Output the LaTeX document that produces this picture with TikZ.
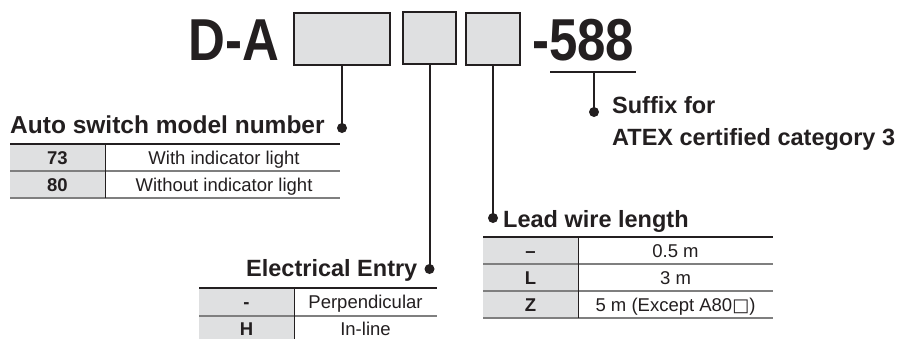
\documentclass[tikz,border=0pt]{standalone}
\usepackage{fontspec}
\setmainfont{Liberation Sans}
\newfontfamily\symfont{DejaVu Sans}
\definecolor{ink}{HTML}{231F20}
\definecolor{boxgray}{HTML}{DFE0E1}
\definecolor{rulegray}{HTML}{7F7F7F}
\tikzset{
  codebox/.style={draw=ink, line width=2.4pt, fill=boxgray, inner sep=0, minimum height=51.6},
  bigtext/.style={anchor=base west, inner sep=0, text=ink, font=\fontsize{51}{60}\selectfont\bfseries},
  title/.style={anchor=base west, inner sep=0, text=ink, font=\fontsize{23.5}{32}\selectfont\bfseries},
  cellb/.style={anchor=base, inner sep=0, text=ink, font=\fontsize{18.5}{20}\selectfont\bfseries},
  cell/.style={anchor=base, inner sep=0, text=ink, font=\fontsize{18.5}{20}\selectfont},
  dotnode/.style={circle, fill=ink, inner sep=0, minimum size=10},
  conn/.style={draw=ink, line width=2pt},
  toprule/.style={draw=ink, line width=2pt},
  rowrule/.style={draw=rulegray, line width=1.2pt},
  colrule/.style={draw=ink, line width=1pt}
}
\begin{document}
\begin{tikzpicture}[x=1pt,y=-1pt]
\useasboundingbox[fill=white] (0,0) rectangle (912,338);
% header
\node[bigtext] (da) at (188,60) {\scalebox{1}[1.16]{D-A}};
\node[codebox, minimum width=95.6] (b1) at (342,39) {};
\node[codebox, minimum width=52.6] (b2) at (429.5,38) {};
\node[codebox, minimum width=53.6] (b3) at (493,39) {};
\node[bigtext] (suf) at (532,60) {\scalebox{1}[1.16]{-588}};
\coordinate (ulL) at (550,72);
\coordinate (ulR) at (636,72);
\coordinate (ulM) at (594,72);
\draw[conn] (ulL) -- (ulR);
% dots
\node[dotnode] (d1) at (342,128) {};
\node[dotnode] (d2) at (429.5,269) {};
\node[dotnode] (d3) at (493,218) {};
\node[dotnode] (d4) at (594,112) {};
\draw[conn] (b1.south) -- (d1.center);
\draw[conn] (b2.south) -- (d2.center);
\draw[conn] (b3.south) -- (d3.center);
\draw[conn] (ulM) -- (d4.center);
% titles
\node[title, font=\fontsize{24.5}{30}\selectfont\bfseries] (ttl1) at (10,133) {Auto switch model number};
\node[title] (ttl2) at (246,276) {Electrical Entry};
\node[title] (ttl3) at (503,227) {Lead wire length};
\node[title] (ttl4a) at (612,113) {Suffix for};
\node[title] (ttl4b) at (612,145) {ATEX certified category 3};
% table 1
\fill[boxgray] (10,144) rectangle (105,198);
\draw[rowrule] (10,171) -- (340,171);
\draw[rowrule] (10,198) -- (340,198);
\draw[colrule] (105,144) -- (105,198);
\draw[toprule] (10,144) -- (340,144);
\node[cellb] (t1a1) at (57.5,164) {73};
\node[cell] (t1a2) at (224,164) {With indicator light};
\node[cellb] (t1b1) at (57.5,191) {80};
\node[cell] (t1b2) at (224,191) {Without indicator light};
% table 2
\fill[boxgray] (199,288) rectangle (294,340);
\draw[rowrule] (199,316) -- (437,316);
\draw[colrule] (294,288) -- (294,340);
\draw[toprule] (199,288) -- (437,288);
\node[cellb] (t2a1) at (246.5,308.5) {-};
\node[cell] (t2a2) at (365.5,308.5) {Perpendicular};
\node[cellb] (t2b1) at (246.5,335) {H};
\node[cell] (t2b2) at (365.5,335) {In-line};
% table 3
\fill[boxgray] (483,237) rectangle (578,318);
\draw[rowrule] (483,264) -- (773,264);
\draw[rowrule] (483,291) -- (773,291);
\draw[rowrule] (483,318) -- (773,318);
\draw[colrule] (578,237) -- (578,318);
\draw[toprule] (483,237) -- (773,237);
\node[cellb] (t3a1) at (530.5,257) {–};
\node[cell] (t3a2) at (675.5,257) {0.5 m};
\node[cellb] (t3b1) at (530.5,284) {L};
\node[cell] (t3b2) at (675.5,284) {3 m};
\node[cellb] (t3c1) at (530.5,311) {Z};
\node[cell] (t3c2) at (675.5,311) {5 m (Except A80{\symfont\fontsize{18}{18}\selectfont □})};
\end{tikzpicture}
\end{document}
